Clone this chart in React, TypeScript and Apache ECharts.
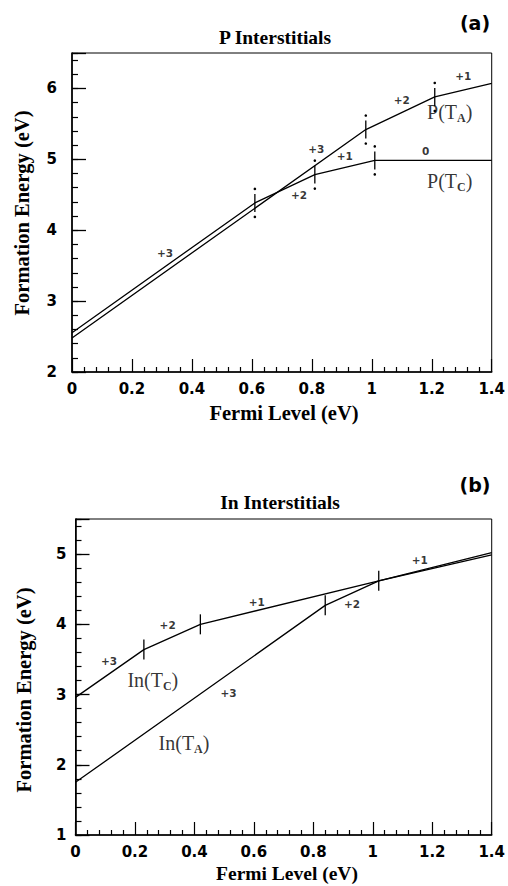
import React, { useEffect, useRef } from "react";
import * as echarts from "echarts";

// ---------- data: panel (a) P interstitials ----------
const pTcX = [0, 0.61, 0.81, 1.01, 1.4];
const pTcY = [2.555, 4.385, 4.785, 4.985, 4.985];
const pTaX = [0, 0.98, 1.21, 1.4];
const pTaY = [2.48, 5.42, 5.88, 6.07];
const pMarkX = [0.61, 0.81, 0.98, 1.01, 1.21];
const pMarkY = [4.385, 4.785, 5.42, 4.985, 5.88];
const pLabelText = ["+3", "+2", "+3", "+1", "0", "+2", "+1"];
const pLabelX = [0.31, 0.757, 0.815, 0.91, 1.18, 1.1, 1.305];
const pLabelY = [3.68, 4.49, 5.15, 5.05, 5.12, 5.84, 6.17];
const pCurveNames = ["{m|P(T}{s|A}{m|)}", "{m|P(T}{s|C}{m|)}"];
const pCurveX = [1.26, 1.26];
const pCurveY = [5.67, 4.7];

// ---------- data: panel (b) In interstitials ----------
const inTcX = [0, 0.23, 0.42, 1.02, 1.4];
const inTcY = [2.96, 3.64, 4.0, 4.62, 4.99];
const inTaX = [0, 0.84, 1.02, 1.4];
const inTaY = [1.75, 4.27, 4.62, 5.02];
const inMarkX = [0.23, 0.42, 0.84, 1.02];
const inMarkY = [3.64, 4.0, 4.27, 4.62];
const inLabelText = ["+3", "+2", "+1", "+3", "+2", "+1"];
const inLabelX = [0.113, 0.31, 0.61, 0.515, 0.93, 1.158];
const inLabelY = [3.48, 3.99, 4.32, 3.02, 4.29, 4.92];
const inCurveNames = ["{m|In(T}{s|C}{m|)}", "{m|In(T}{s|A}{m|)}"];
const inCurveX = [0.26, 0.365];
const inCurveY = [3.21, 2.31];

const xMin = 0;
const xMax = 1.4;
const xStep = 0.2;
const pYMin = 2;
const pYMax = 6.5;
const inYMin = 1;
const inYMax = 5.5;

const zip = (xs: number[], ys: number[]) => xs.map((x, i) => [x, ys[i]]);

const SANS = "DejaVu Sans";
const SERIF = "Liberation Serif";

export default function App() {
  const ref = useRef<HTMLDivElement>(null);

  useEffect(() => {
    const chart = echarts.init(ref.current!, null, { renderer: "svg" });

    const xAxisBase = (gridIndex: number, margin: number) => ({
      type: "value",
      gridIndex,
      min: xMin,
      max: xMax,
      interval: xStep,
      axisLine: { show: true, lineStyle: { color: "#000", width: 1.6 } },
      axisTick: { show: true, inside: true, length: 13, lineStyle: { color: "#000", width: 1.2 } },
      minorTick: { show: true, splitNumber: 5, length: 5, lineStyle: { color: "#000", width: 1.2 } },
      splitLine: { show: false },
      minorSplitLine: { show: false },
      axisLabel: {
        margin,
        color: "#000",
        fontFamily: SANS,
        fontWeight: "bold",
        fontSize: 15,
        formatter: (v: number) => String(Math.round(v * 10) / 10),
      },
    });

    const yMinor = (gridIndex: number, min: number, max: number) => ({
      type: "value",
      gridIndex,
      position: "left",
      offset: 0,
      min,
      max,
      interval: 0.2,
      axisLine: { show: true, onZero: false, lineStyle: { color: "#000", width: 1.6 } },
      axisTick: { show: true, inside: true, length: 6, lineStyle: { color: "#000", width: 1.2 } },
      axisLabel: { show: false },
      splitLine: { show: false },
    });

    const yMajor = (gridIndex: number, min: number, max: number, margin: number) => ({
      type: "value",
      gridIndex,
      position: "left",
      offset: 0,
      min,
      max,
      interval: 1,
      axisLine: { show: false, onZero: false },
      axisTick: { show: true, inside: true, length: 14, lineStyle: { color: "#000", width: 1.3 } },
      splitLine: { show: false },
      axisLabel: {
        margin,
        color: "#000",
        fontFamily: SANS,
        fontWeight: "bold",
        fontSize: 15,
        formatter: (v: number) => (Math.abs(v - Math.round(v)) < 1e-6 ? String(Math.round(v)) : ""),
      },
    });

    const lineSeries = (xIdx: number, yIdx: number, data: number[][]) => ({
      type: "line",
      xAxisIndex: xIdx,
      yAxisIndex: yIdx,
      data,
      symbol: "none",
      silent: true,
      lineStyle: { color: "#000", width: 1.3 },
    });

    const markSeries = (xIdx: number, yIdx: number, data: number[][], dotted: boolean) => ({
      type: "custom",
      xAxisIndex: xIdx,
      yAxisIndex: yIdx,
      silent: true,
      data,
      renderItem: (params: any, api: any) => {
        const p = api.coord([api.value(0), api.value(1)]);
        const children: any[] = [];
        if (dotted) {
          children.push({
            type: "line",
            shape: { x1: p[0], y1: p[1] - 9, x2: p[0], y2: p[1] + 9 },
            style: { stroke: "#000", lineWidth: 1.3 },
          });
          children.push({ type: "circle", shape: { cx: p[0], cy: p[1] - 14, r: 1.3 }, style: { fill: "#000" } });
          children.push({ type: "circle", shape: { cx: p[0], cy: p[1] + 14, r: 1.3 }, style: { fill: "#000" } });
        } else {
          children.push({
            type: "line",
            shape: { x1: p[0], y1: p[1] - 10, x2: p[0], y2: p[1] + 10 },
            style: { stroke: "#000", lineWidth: 1.3 },
          });
        }
        return { type: "group", children };
      },
    });

    const textSeries = (xIdx: number, yIdx: number, names: string[], xs: number[], ys: number[]) => ({
      type: "scatter",
      xAxisIndex: xIdx,
      yAxisIndex: yIdx,
      silent: true,
      symbolSize: 1,
      itemStyle: { color: "transparent" },
      data: names.map((n, i) => ({ name: n, value: [xs[i], ys[i]] })),
      label: {
        show: true,
        position: "inside",
        formatter: (p: any) => p.name,
        color: "#000",
        fontFamily: SANS,
        fontWeight: "bold",
        fontSize: 10.5,
      },
    });

    const curveSeries = (xIdx: number, yIdx: number, names: string[], xs: number[], ys: number[]) => ({
      type: "scatter",
      xAxisIndex: xIdx,
      yAxisIndex: yIdx,
      silent: true,
      symbolSize: 1,
      itemStyle: { color: "transparent" },
      data: names.map((n, i) => ({ name: n, value: [xs[i], ys[i]] })),
      label: {
        show: true,
        position: "inside",
        formatter: (p: any) => p.name,
        rich: {
          m: { fontFamily: SERIF, fontSize: 20, color: "#000", lineHeight: 24, verticalAlign: "middle" },
          s: { fontFamily: SERIF, fontSize: 12, fontWeight: "bold", color: "#000", lineHeight: 24, verticalAlign: "bottom" },
        },
      },
    });

    const titleText = (text: string, x: number, y: number, size: number, font: string) => ({
      type: "text",
      x,
      y,
      style: {
        text,
        fill: "#000",
        font: `bold ${size}px ${font}`,
        textAlign: "center",
        textVerticalAlign: "middle",
      },
    });

    const option: any = {
      animation: false,
      backgroundColor: "#fff",
      grid: [
        { left: 72, top: 53, width: 425, height: 319, show: true, borderColor: "#000", borderWidth: 1, backgroundColor: "transparent" },
        { left: 75.5, top: 519, width: 423.5, height: 316, show: true, borderColor: "#000", borderWidth: 1, backgroundColor: "transparent" },
      ],
      xAxis: [xAxisBase(0, 9), xAxisBase(1, 9)],
      yAxis: [
        yMinor(0, pYMin, pYMax),
        yMajor(0, pYMin, pYMax, 15),
        yMinor(1, inYMin, inYMax),
        yMajor(1, inYMin, inYMax, 9),
      ],
      series: [
        lineSeries(0, 1, zip(pTcX, pTcY)),
        lineSeries(0, 1, zip(pTaX, pTaY)),
        markSeries(0, 1, zip(pMarkX, pMarkY), true),
        textSeries(0, 1, pLabelText, pLabelX, pLabelY),
        curveSeries(0, 1, pCurveNames, pCurveX, pCurveY),
        lineSeries(1, 3, zip(inTcX, inTcY)),
        lineSeries(1, 3, zip(inTaX, inTaY)),
        markSeries(1, 3, zip(inMarkX, inMarkY), false),
        textSeries(1, 3, inLabelText, inLabelX, inLabelY),
        curveSeries(1, 3, inCurveNames, inCurveX, inCurveY),
      ],
      graphic: [
        titleText("(a)", 475, 23, 19, SANS),
        titleText("P Interstitials", 275, 37, 19.5, SERIF),
        titleText("Fermi Level (eV)", 284, 413, 20.5, SERIF),
        { ...titleText("Formation Energy (eV)", 22, 213, 20.5, SERIF), rotation: Math.PI / 2 },
        titleText("(b)", 475, 485, 19, SANS),
        titleText("In Interstitials", 280, 502, 19.5, SERIF),
        titleText("Fermi Level (eV)", 287, 873, 19.5, SERIF),
        { ...titleText("Formation Energy (eV)", 24, 690, 20.5, SERIF), rotation: Math.PI / 2 },
      ],
    };

    chart.setOption(option);
    return () => chart.dispose();
  }, []);

  return (
    <div
      ref={ref}
      style={{ position: "absolute", left: 0, top: 0, width: 508, height: 886, background: "#fff" }}
    />
  );
}
